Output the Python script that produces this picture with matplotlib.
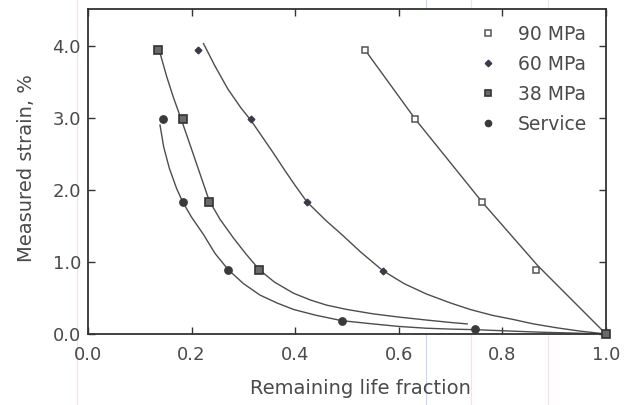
import matplotlib
matplotlib.use("Agg")
import matplotlib.pyplot as plt
from matplotlib.lines import Line2D

# ---- data ----
x_90 = [0.535, 0.632, 0.761, 0.865]
y_90 = [3.94, 2.98, 1.83, 0.89]
line_90_x = [0.535, 0.632, 0.761, 0.868, 1.0]
line_90_y = [3.94, 2.98, 1.83, 0.95, 0.0]

x_60 = [0.213, 0.315, 0.423, 0.569]
y_60 = [3.94, 2.98, 1.83, 0.88]
curve_60_x = [0.223, 0.245, 0.27, 0.295, 0.315, 0.337, 0.358, 0.38, 0.40, 0.423, 0.46, 0.49, 0.526, 0.569, 0.61, 0.653, 0.70, 0.738, 0.78, 0.822, 0.86, 0.906, 0.95, 1.0]
curve_60_y = [4.03, 3.72, 3.40, 3.14, 2.96, 2.73, 2.51, 2.27, 2.06, 1.83, 1.57, 1.38, 1.14, 0.88, 0.70, 0.556, 0.43, 0.34, 0.26, 0.20, 0.14, 0.085, 0.04, 0.0]

x_38 = [0.135, 0.183, 0.234, 0.331, 1.0]
y_38 = [3.94, 2.98, 1.83, 0.89, 0.0]
curve_38_x = [0.139, 0.152, 0.165, 0.180, 0.203, 0.223, 0.234, 0.255, 0.281, 0.305, 0.331, 0.36, 0.397, 0.43, 0.461, 0.50, 0.55, 0.60, 0.653, 0.70, 0.732]
curve_38_y = [3.90, 3.57, 3.28, 2.98, 2.50, 2.08, 1.85, 1.59, 1.33, 1.11, 0.89, 0.72, 0.565, 0.47, 0.40, 0.34, 0.28, 0.235, 0.194, 0.16, 0.14]

x_sv = [0.144, 0.183, 0.271, 0.490, 0.748]
y_sv = [2.98, 1.83, 0.89, 0.185, 0.065]
curve_sv_x = [0.139, 0.146, 0.157, 0.171, 0.183, 0.200, 0.223, 0.245, 0.271, 0.30, 0.332, 0.365, 0.397, 0.44, 0.490, 0.55, 0.60, 0.653, 0.70, 0.748, 0.80, 0.873, 0.94, 1.0]
curve_sv_y = [2.90, 2.60, 2.30, 2.02, 1.83, 1.62, 1.38, 1.12, 0.89, 0.70, 0.54, 0.43, 0.34, 0.26, 0.185, 0.14, 0.105, 0.08, 0.068, 0.06, 0.045, 0.025, 0.012, 0.0]

legend_labels = ["90 MPa", "60 MPa", "38 MPa", "Service"]
x_ticks = [0.0, 0.2, 0.4, 0.6, 0.8, 1.0]
y_ticks = [0.0, 1.0, 2.0, 3.0, 4.0]

# ---- figure ----
W, H = 629, 405
fig = plt.figure(figsize=(W / 100, H / 100), dpi=100)
plt.rcParams['font.family'] = ['DejaVu Sans']
ax = fig.add_axes([88 / W, 1 - 334 / H, (606 - 88) / W, (334 - 9) / H])

txt = "#4a4a4a"
lc = "#4d4d4d"

ax.plot(line_90_x, line_90_y, color=lc, lw=1.0)
ax.plot(curve_60_x, curve_60_y, color=lc, lw=1.0)
ax.plot(curve_38_x, curve_38_y, color=lc, lw=1.0)
ax.plot(curve_sv_x, curve_sv_y, color=lc, lw=1.0)

ax.plot(x_90, y_90, ls="none", marker="s", ms=4.8, mfc="white", mec="#555555", mew=1.1)
ax.plot(x_60, y_60, ls="none", marker="D", ms=3.4, mfc="#3a3a4a", mec="#3a3a4a")
ax.plot(x_38, y_38, ls="none", marker="s", ms=5.2, mfc="#6a6a6a", mec="#333333", mew=1.2,
        clip_on=False, zorder=5)
ax.plot(x_sv, y_sv, ls="none", marker="o", ms=5.3, mfc="#3a3a3a", mec="#3a3a3a")

ax.set_xlim(0, 1.0)
ax.set_ylim(0, 4.51)
ax.set_xticks(x_ticks)
ax.set_yticks(y_ticks)
ax.set_xticklabels([f"{v:.1f}" for v in x_ticks])
ax.set_yticklabels([f"{v:.1f}" for v in y_ticks])
ax.tick_params(direction="in", length=5, width=1, colors="#333333",
               top=True, right=True, labelsize=13, labelcolor=txt)
ax.tick_params(axis="x", pad=9)
ax.tick_params(axis="y", pad=5)
for s in ax.spines.values():
    s.set_color("#333333")
    s.set_linewidth(1.3)

ax.set_xlabel("Remaining life fraction", fontsize=14, color=txt)
ax.set_ylabel("Measured strain, %", fontsize=14, color=txt)
ax.xaxis.set_label_coords((360 - 88) / 518, (334 - 379) / 325)
ax.yaxis.set_label_coords((36 - 88) / 518, (334 - 168.5) / 325)

handles = [
    Line2D([], [], ls="none", marker="s", ms=3.8, mfc="white", mec="#555555", mew=1.1),
    Line2D([], [], ls="none", marker="D", ms=3.3, mfc="#3a3a4a", mec="#3a3a4a"),
    Line2D([], [], ls="none", marker="s", ms=4.2, mfc="#6a6a6a", mec="#333333", mew=1.2),
    Line2D([], [], ls="none", marker="o", ms=4.5, mfc="#3a3a3a", mec="#3a3a3a"),
]
leg = ax.legend(handles, legend_labels, loc="upper left", frameon=False,
                fontsize=13.5, labelcolor=txt, handlelength=1.0, handletextpad=1.1,
                labelspacing=0.58, borderaxespad=0,
                bbox_to_anchor=((471 - 88) / 518, (334 - 17.5) / 325))

# faint vertical scan streaks present in the reference image
for xp, col in [(426, "#b8ccf4"), (77, "#f2d6ee"), (471, "#f2d6ee"), (548, "#f2d6ee")]:
    fig.add_artist(Line2D([xp / W, xp / W], [0, 1], color=col, lw=0.8, alpha=0.8, zorder=0))

fig.savefig("out.png", dpi=100)
